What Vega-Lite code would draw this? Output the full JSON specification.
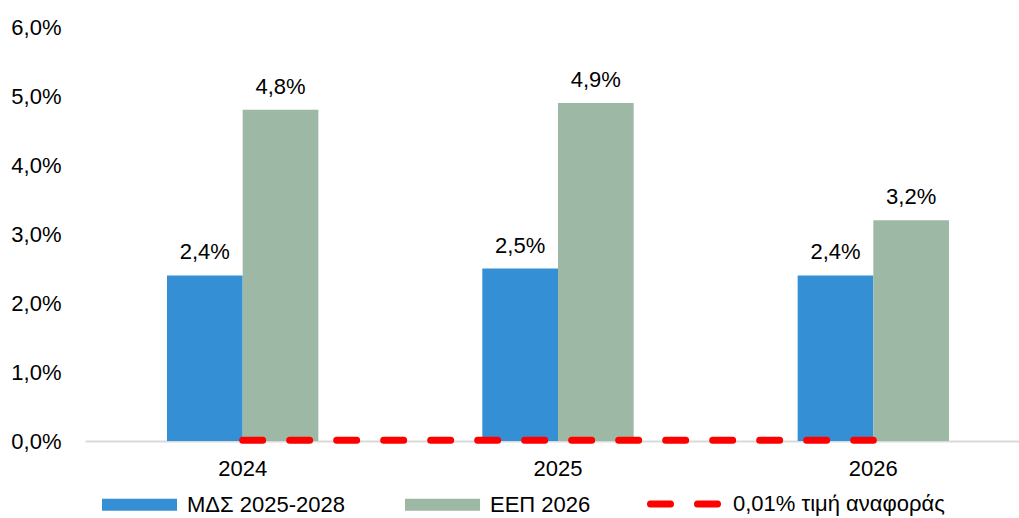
{
  "$schema": "https://vega.github.io/schema/vega-lite/v6.json",
  "width": 934,
  "height": 414,
  "autosize": {"type": "none"},
  "padding": {"left": 85, "top": 27, "right": 0, "bottom": 77},
  "config": {
    "locale": {"number": {"decimal": ",", "thousands": ".", "grouping": [3], "currency": ["", " €"]}},
    "view": {"stroke": null},
    "font": "Liberation Sans",
    "text": {"font": "Liberation Sans"}
  },
  "datasets": {
    "bars": [
      {"year": "2024", "series": "ΜΔΣ 2025-2028", "value": 0.024},
      {"year": "2024", "series": "ΕΕΠ 2026", "value": 0.048},
      {"year": "2025", "series": "ΜΔΣ 2025-2028", "value": 0.025},
      {"year": "2025", "series": "ΕΕΠ 2026", "value": 0.049},
      {"year": "2026", "series": "ΜΔΣ 2025-2028", "value": 0.024},
      {"year": "2026", "series": "ΕΕΠ 2026", "value": 0.032}
    ],
    "ref": [
      {"year": "2024", "label": "0,01% τιμή αναφοράς", "value": 0.0001},
      {"year": "2025", "label": "0,01% τιμή αναφοράς", "value": 0.0001},
      {"year": "2026", "label": "0,01% τιμή αναφοράς", "value": 0.0001}
    ]
  },
  "layer": [
    {
      "data": {"name": "bars"},
      "mark": {"type": "bar"},
      "encoding": {
        "x": {
          "field": "year", "type": "nominal",
          "scale": {"range": [0, 946], "paddingInner": 0.52, "paddingOuter": 0.26},
          "axis": {
            "title": null, "labelAngle": 0, "ticks": false,
            "domainColor": "#d9d9d9", "domainWidth": 2,
            "labelFont": "Liberation Sans", "labelFontSize": 22, "labelColor": "#000",
            "labelPadding": 17
          }
        },
        "xOffset": {
          "field": "series", "type": "nominal",
          "sort": ["ΜΔΣ 2025-2028", "ΕΕΠ 2026"],
          "scale": {"paddingInner": 0, "paddingOuter": 0}
        },
        "y": {
          "field": "value", "type": "quantitative",
          "scale": {"domain": [0, 0.06]},
          "axis": {
            "title": null, "values": [0, 0.01, 0.02, 0.03, 0.04, 0.05, 0.06],
            "format": ".1%", "domain": false, "ticks": false, "grid": false,
            "labelFont": "Liberation Sans", "labelFontSize": 22, "labelColor": "#000",
            "labelPadding": 24
          }
        },
        "color": {
          "field": "series", "type": "nominal",
          "sort": ["ΜΔΣ 2025-2028", "ΕΕΠ 2026"],
          "scale": {"domain": ["ΜΔΣ 2025-2028", "ΕΕΠ 2026"], "range": ["#348fd4", "#9db8a5"]},
          "legend": {
            "title": null, "orient": "none", "legendX": 17, "legendY": 440,
            "direction": "horizontal", "padding": 0,
            "symbolType": "M-1,-0.16H1V0.16H-1Z", "symbolSize": 5625,
            "symbolStrokeWidth": 0, "symbolOpacity": 1,
            "labelFont": "Liberation Sans", "labelFontSize": 22, "labelColor": "#000",
            "labelLimit": 400, "labelOffset": 10, "columnPadding": 60
          }
        }
      }
    },
    {
      "data": {"name": "bars"},
      "mark": {"type": "text", "baseline": "alphabetic", "dy": -16, "fontSize": 22, "color": "#000"},
      "encoding": {
        "x": {"field": "year", "type": "nominal"},
        "xOffset": {"field": "series", "type": "nominal", "sort": ["ΜΔΣ 2025-2028", "ΕΕΠ 2026"]},
        "y": {"field": "value", "type": "quantitative"},
        "text": {"field": "value", "type": "quantitative", "format": ".1%"}
      }
    },
    {
      "data": {"name": "ref"},
      "mark": {"type": "line", "strokeWidth": 7, "strokeDash": [20, 27], "strokeCap": "round"},
      "encoding": {
        "x": {"field": "year", "type": "nominal"},
        "y": {"field": "value", "type": "quantitative"},
        "stroke": {
          "field": "label", "type": "nominal",
          "scale": {"range": ["#ff0000"]},
          "legend": {
            "title": null, "orient": "none", "legendX": 562, "legendY": 440,
            "direction": "horizontal", "padding": 0,
            "symbolType": "stroke", "symbolSize": 4489,
            "symbolStrokeWidth": 7, "symbolDash": [20, 27],
            "labelFont": "Liberation Sans", "labelFontSize": 22, "labelColor": "#000",
            "labelLimit": 400, "labelOffset": 12,
            "encode": {"symbols": {"update": {"strokeCap": {"value": "round"}}}}
          }
        }
      }
    }
  ]
}
